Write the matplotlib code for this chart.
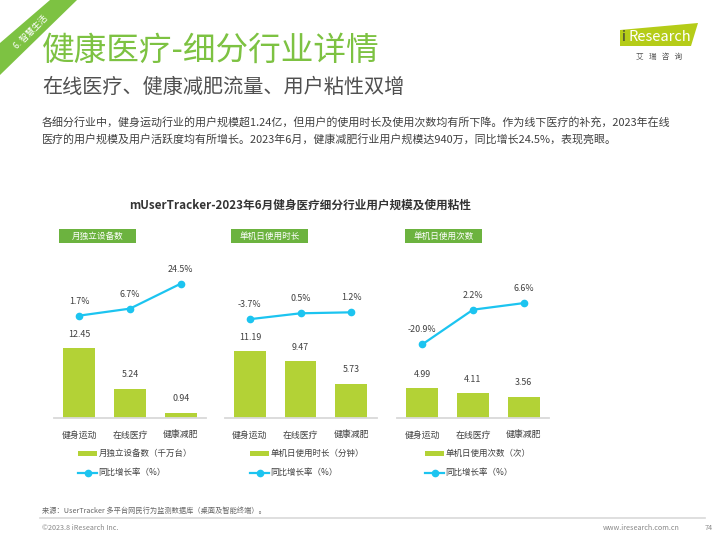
import matplotlib
matplotlib.use("Agg")
import matplotlib.pyplot as plt
from matplotlib.patches import Polygon, Rectangle

plt.rcParams["font.family"] = ["Noto Sans CJK SC", "DejaVu Sans"]

# data
categories = ["健身运动", "在线医疗", "健康减肥"]
panel_titles = ["月独立设备数", "单机日使用时长", "单机日使用次数"]
bar_labels = ["月独立设备数（千万台）", "单机日使用时长（分钟）", "单机日使用次数（次）"]
devices = [12.45, 5.24, 0.94]
minutes = [11.19, 9.47, 5.73]
times = [4.99, 4.11, 3.56]
growth_devices = [1.7, 6.7, 24.5]
growth_minutes = [-3.7, 0.5, 1.2]
growth_times = [-20.9, 2.2, 6.6]
line_label = "同比增长率（%）"

bar_values = [devices, minutes, times]
growth_values = [growth_devices, growth_minutes, growth_times]

BAR = "#B3D236"
LINE = "#1CC4F0"
GREEN = "#7DC242"
BOX = "#6CB33F"
TXT = "#404040"

W, H = 720, 540
fig = plt.figure(figsize=(7.2, 5.4), dpi=100)


def fx(x):
    return x / W


def fy(y):
    return 1 - y / H


# overlay for page decorations, pixel coordinates
deco = fig.add_axes([0, 0, 1, 1])
deco.set_xlim(0, W)
deco.set_ylim(H, 0)
deco.axis("off")

deco.add_patch(Polygon([(0, 43), (0, 75), (77, 0), (50, 0)], closed=True,
                       color=GREEN, lw=0))
deco.text(31, 32, "6. 智慧生活", rotation=45, color="white", fontsize=6.2,
          ha="center", va="center")

fig.text(fx(42), fy(51), "健康医疗-细分行业详情", color=GREEN, fontsize=23.5,
         va="center")
fig.text(fx(42), fy(87), "在线医疗、健康减肥流量、用户粘性双增", color="#505050",
         fontsize=14.5, va="center")

# logo
deco.add_patch(Polygon([(620, 30), (698, 23), (691, 46), (620, 46)], closed=True,
                       color="#B5CC18", lw=0))
deco.text(622, 37, "i", color="#3A3A3A", fontsize=10.5, va="center")
deco.text(628, 37, "Research", color="white", fontsize=10.5, va="center")
deco.text(659, 57, "艾   瑞   咨   询", color="#555555", fontsize=5.5,
          ha="center", va="center")

para = ("各细分行业中，健身运动行业的用户规模超1.24亿，但用户的使用时长及使用次数均有所下降。"
        "作为线下医疗的补充，2023年在线\n"
        "医疗的用户规模及用户活跃度均有所增长。2023年6月，健康减肥行业用户规模达940万，"
        "同比增长24.5%，表现亮眼。")
fig.text(fx(42), fy(131), para, color=TXT, fontsize=7.9, va="center",
         linespacing=1.65)

fig.text(fx(300), fy(205), "mUserTracker-2023年6月健身医疗细分行业用户规模及使用粘性",
         color="#333333", fontsize=8.4, fontweight="bold", ha="center", va="center")

# panels
panel_left = [54, 224.5, 397]
box_left = [59, 231, 405]
legend_left = [77, 249, 424]
bar_ylims = [(0, 29.1), (0, 27.2), (0, 27.2)]
zero_px = [100, 104, 105]
px_per_pct = [1.4, 1.4, 1.5]
top_px, base_px = 255, 418
ax_h = base_px - top_px

for i in range(3):
    ax = fig.add_axes([fx(panel_left[i]), fy(base_px), 152 / W, ax_h / H])
    xs = range(len(categories))
    bars = ax.bar(xs, bar_values[i], width=0.63, color=BAR, label=bar_labels[i])
    ax.set_xlim(-0.5, 2.5)
    ax.set_ylim(*bar_ylims[i])
    for s in ["top", "left", "right"]:
        ax.spines[s].set_visible(False)
    ax.spines["bottom"].set_color("#D9D9D9")
    ax.spines["bottom"].set_linewidth(1.3)
    ax.set_yticks([])
    ax.set_xticks(list(xs))
    ax.set_xticklabels(categories, fontsize=6.4, color=TXT)
    ax.tick_params(axis="x", length=0, pad=9)
    for x, v in zip(xs, bar_values[i]):
        ax.annotate(f"{v:.2f}", (x, v), xytext=(0, 10), textcoords="offset points",
                    ha="center", va="center", fontsize=6.4, color=TXT)

    tw = ax.twinx()
    lo = -zero_px[i] / px_per_pct[i]
    hi = (ax_h - zero_px[i]) / px_per_pct[i]
    tw.set_ylim(lo, hi)
    tw.axis("off")
    ln, = tw.plot(xs, growth_values[i], color=LINE, lw=1.6, marker="o",
                  markersize=4.5, label=line_label)
    for x, v in zip(xs, growth_values[i]):
        tw.annotate(f"{v:.1f}%", (x, v), xytext=(0, 10.5), textcoords="offset points",
                    ha="center", va="center", fontsize=6.4, color=TXT)

    # green title box
    deco.add_patch(Rectangle((box_left[i], 229), 77, 14, color=BOX, lw=0))
    deco.text(box_left[i] + 38.5, 236, panel_titles[i], color="white", fontsize=6.2,
              ha="center", va="center")

    fig.legend(handles=[bars, ln], loc="upper left",
               bbox_to_anchor=(fx(legend_left[i] - 3), fy(445)),
               frameon=False, fontsize=6.1, handlelength=2.2, handleheight=0.6,
               handletextpad=0.2, labelspacing=1.2, borderpad=0, labelcolor=TXT)

# footer
fig.text(fx(42), fy(511), "来源：UserTracker 多平台网民行为监测数据库（桌面及智能终端）。",
         color="#666666", fontsize=5.2, va="center")
deco.plot([40, 705], [518, 518], color="#D9D9D9", lw=1.2)
fig.text(fx(42), fy(528), "©2023.8 iResearch Inc.", color="#888888", fontsize=5.2,
         va="center")
fig.text(fx(680), fy(528), "www.iresearch.com.cn", color="#888888", fontsize=5.2,
         ha="right", va="center")
fig.text(fx(705), fy(528), "74", color="#888888", fontsize=5.2, va="center")

fig.savefig("out.png", dpi=100, facecolor="white")
